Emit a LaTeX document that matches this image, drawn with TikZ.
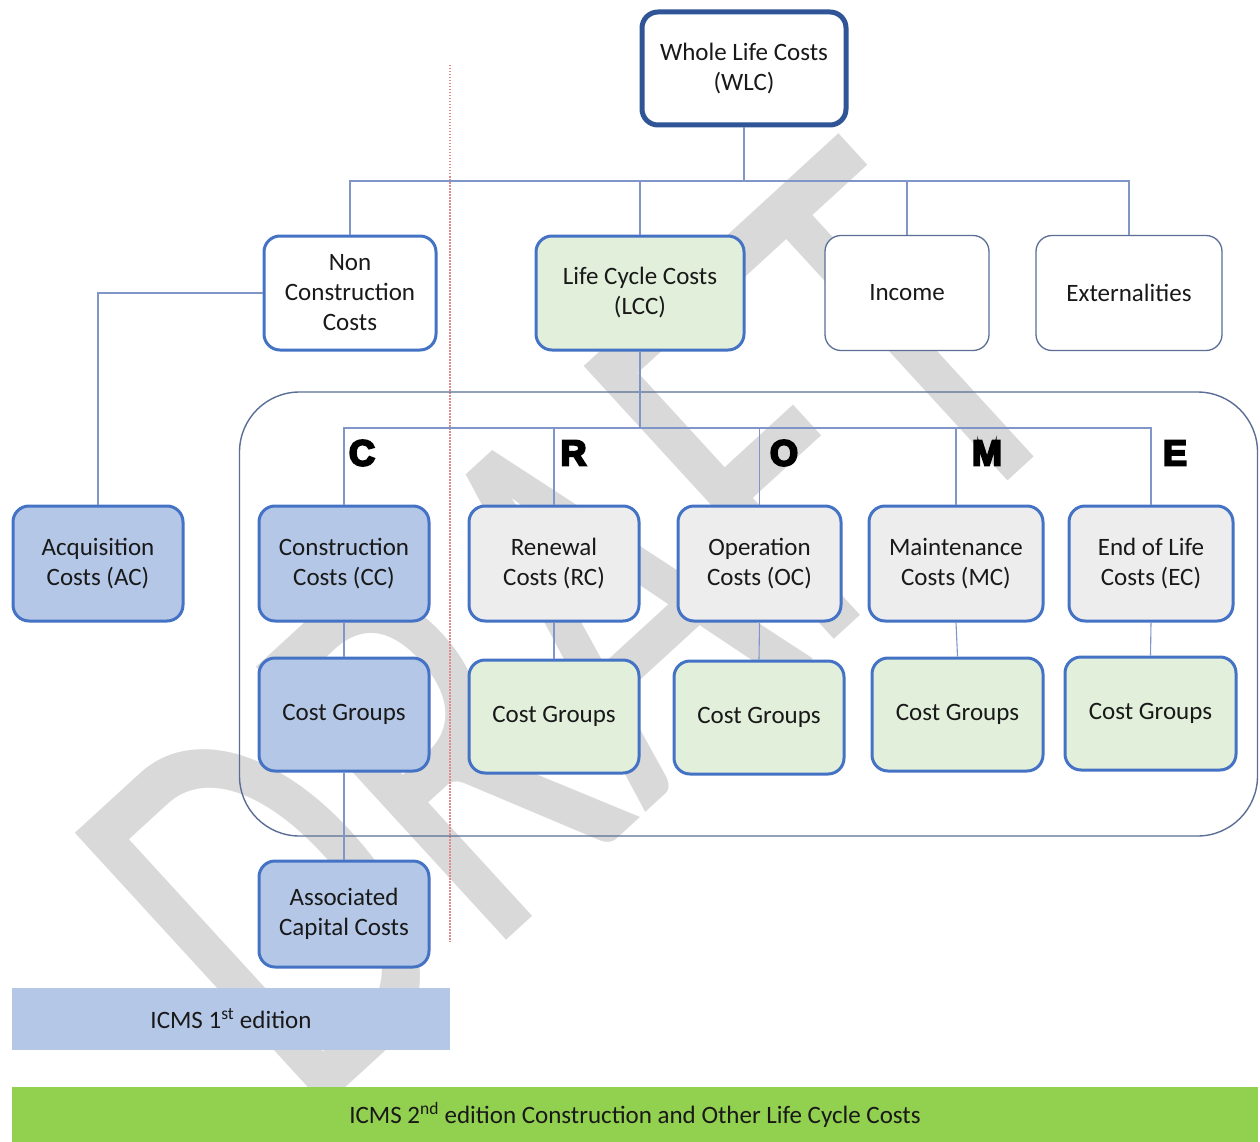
\documentclass[tikz,border=0pt]{standalone}
\usepackage{fontspec}
\setmainfont{Carlito}
\newfontface\heavyfont[FakeBold=6]{Liberation Sans Bold}
\definecolor{bluefill}{RGB}{180,199,231}
\definecolor{greenfill}{RGB}{226,239,218}
\definecolor{greyfill}{RGB}{237,237,237}
\definecolor{boxborder}{RGB}{68,114,196}
\definecolor{darkborder}{RGB}{47,85,151}
\definecolor{thinborder}{RGB}{90,110,150}
\definecolor{connclr}{RGB}{128,150,200}
\definecolor{wmclr}{RGB}{217,217,217}
\definecolor{bargreen}{RGB}{146,208,80}
\definecolor{dotred}{RGB}{224,140,140}
\tikzset{
  cbox/.style={draw=boxborder, line width=3pt, rounded corners=16pt, align=center,
    font=\fontsize{25}{30}\selectfont, inner sep=0pt, text=black!90},
  thinbox/.style={cbox, draw=thinborder, line width=1.3pt},
  connline/.style={draw=connclr, line width=1.1pt},
  lettr/.style={font=\heavyfont\fontsize{36}{36}\selectfont, inner sep=0pt},
  edbar/.style={inner sep=0pt, font=\fontsize{25}{30}\selectfont, text=black!90},
}
\begin{document}
\begin{tikzpicture}[x=1pt,y=-1pt]
\useasboundingbox (0,0) rectangle (1260,1142);
\fill[white] (0,0) rectangle (1260,1142);
\clip (0,0) rectangle (1260,1142);
% watermark
\node[rotate=42.5, anchor=base west, text=wmclr, inner sep=0pt,
  font=\fontsize{398}{398}\selectfont] (wmark) at (305,1125) {\scalebox{1}[1.45]{DRAFT}};
% dotted divider
\coordinate (dtop) at (450,65);
\coordinate (dbot) at (450,942);
\draw[dotred, line width=1.1pt, dash pattern=on 1.5pt off 1.5pt] (dtop) -- (dbot);
% frame
\node[draw=thinborder, line width=1.4pt, rounded corners=60pt, minimum width=1018pt,
  minimum height=444pt, inner sep=0pt] (frame) at (748.5,614) {};
% boxes
\node[cbox, draw=darkborder, line width=5pt, fill=white, minimum width=204pt, minimum height=113pt] (wlc) at (744,68.5) {Whole Life Costs\\(WLC)};
\node[cbox, fill=white, minimum width=172pt, minimum height=114pt] (nc) at (350,293) {Non\\Construction\\Costs};
\node[cbox, fill=greenfill, minimum width=208pt, minimum height=114pt] (lcc) at (640,293) {Life Cycle Costs\\(LCC)};
\node[thinbox, fill=white, minimum width=164pt, minimum height=115pt] (inc) at (907,293) {Income};
\node[thinbox, fill=white, minimum width=186pt, minimum height=115pt] (ext) at (1129,293) {Externalities};
\node[cbox, fill=bluefill, minimum width=170pt, minimum height=115pt] (ac) at (98,563.5) {Acquisition\\Costs (AC)};
\node[cbox, fill=bluefill, minimum width=170pt, minimum height=115pt] (cc) at (344,563.5) {Construction\\Costs (CC)};
\node[cbox, fill=greyfill, minimum width=170pt, minimum height=115pt] (rc) at (554,563.5) {Renewal\\Costs (RC)};
\node[cbox, fill=greyfill, minimum width=163pt, minimum height=115pt] (oc) at (759.5,563.5) {Operation\\Costs (OC)};
\node[cbox, fill=greyfill, minimum width=174pt, minimum height=115pt] (mc) at (956,563.5) {Maintenance\\Costs (MC)};
\node[cbox, fill=greyfill, minimum width=164pt, minimum height=115pt] (ec) at (1151,563.5) {End of Life\\Costs (EC)};
\node[cbox, fill=bluefill, minimum width=170pt, minimum height=113pt] (cgc) at (344,714.5) {Cost Groups};
\node[cbox, fill=greenfill, minimum width=170pt, minimum height=113pt] (cgr) at (554,716.5) {Cost Groups};
\node[cbox, fill=greenfill, minimum width=170pt, minimum height=113pt] (cgo) at (759,717.5) {Cost Groups};
\node[cbox, fill=greenfill, minimum width=171pt, minimum height=113pt] (cgm) at (957.5,714.5) {Cost Groups};
\node[cbox, fill=greenfill, minimum width=171pt, minimum height=113pt] (cge) at (1150.5,713.5) {Cost Groups};
\node[cbox, fill=bluefill, minimum width=170pt, minimum height=106pt] (acc) at (344,914) {Associated\\Capital Costs};
% connectors
\coordinate (j1) at (744,181);
\coordinate (j2) at (640,428);
\draw[connline] (wlc.south) -- (j1);
\draw[connline] (nc.north) -- (nc.north |- j1) -- (ext.north |- j1) -- (ext.north);
\draw[connline] (lcc.north |- j1) -- (lcc.north);
\draw[connline] (inc.north |- j1) -- (inc.north);
\draw[connline] (nc.west) -| (ac.north);
\draw[connline] (lcc.south) -- (j2);
\draw[connline] (cc.north) -- (cc.north |- j2) -- (ec.north |- j2) -- (ec.north);
\draw[connline] (rc.north |- j2) -- (rc.north);
\draw[connline] (oc.north |- j2) -- (oc.north);
\draw[connline] (mc.north |- j2) -- (mc.north);
\draw[connline] (cc.south) -- (cgc.north);
\draw[connline] (rc.south) -- (cgr.north);
\draw[connline] (oc.south) -- (cgo.north);
\draw[connline] (mc.south) -- (cgm.north);
\draw[connline] (ec.south) -- (cge.north);
\draw[connline] (cgc.south) -- (acc.north);
% letters
\node[lettr] (lc) at (362,453) {C};
\node[lettr] (lr) at (573.5,453) {R};
\node[lettr] (lo) at (784,453) {O};
\node[lettr] (lm) at (987,453) {M};
\node[lettr] (le) at (1175,453) {E};
% edition bars
\node[edbar, fill=bluefill, minimum width=438pt, minimum height=62pt] (ed1) at (231,1019) {ICMS 1\textsuperscript{st} edition};
\node[edbar, fill=bargreen, minimum width=1246pt, minimum height=55pt] (ed2) at (635,1114.5) {\raisebox{-3pt}{ICMS 2\textsuperscript{nd} edition Construction and Other Life Cycle Costs}};
\end{tikzpicture}
\end{document}
